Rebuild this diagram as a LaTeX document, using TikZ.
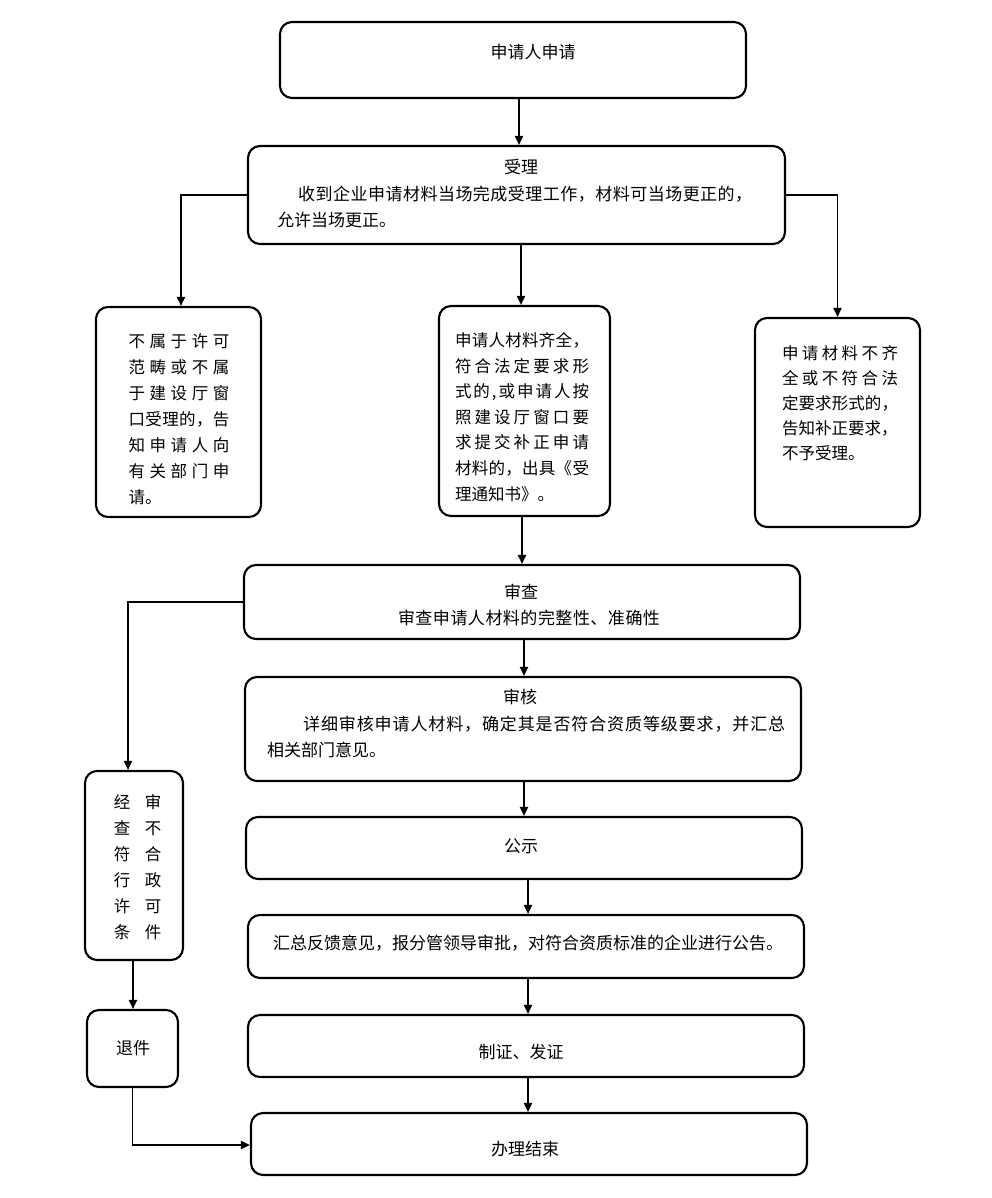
\documentclass[tikz,border=0pt]{standalone}
\usepackage{fontspec}
\setmainfont{Noto Sans CJK SC}
\usetikzlibrary{arrows.meta}
\def\sprloop#1{#1\futurelet\sprnext\sprcheck}
\def\sprcheck{\ifx\sprnext\relax\else\hfil\expandafter\sprloop\fi}
\newcommand\spr[2]{\makebox[#1][s]{\sprloop#2\relax}}
\tikzset{
  box/.style={draw, line width=2.1pt, rounded corners=12pt, inner sep=0pt},
  txt/.style={inner sep=0pt, font=\fontsize{17}{26}\selectfont},
  stxt/.style={inner sep=0pt, align=left, font=\fontsize{16.5}{26}\selectfont},
  arr/.style={line width=1.9pt, -{Triangle[length=9pt,width=8pt]}},
}
\begin{document}
\begin{tikzpicture}[x=1pt,y=-1pt]
\fill[white] (0,0) rectangle (992,1198);
\useasboundingbox (0,0) rectangle (992,1198);
% boxes
\node[box, minimum width=466pt, minimum height=76pt] (a) at (513,60) {};
\node[box, minimum width=537pt, minimum height=98pt] (b) at (516.5,195) {};
\node[box, minimum width=165pt, minimum height=210pt] (c) at (178.5,412) {};
\node[box, minimum width=171pt, minimum height=210pt] (d) at (524.5,411) {};
\node[box, minimum width=165pt, minimum height=209pt] (e) at (837.5,422.5) {};
\node[box, minimum width=556pt, minimum height=74pt] (f) at (522,602) {};
\node[box, minimum width=556pt, minimum height=104pt] (g) at (523,729) {};
\node[box, minimum width=556pt, minimum height=62pt] (h) at (524,848) {};
\node[box, minimum width=556pt, minimum height=63pt] (i) at (526,946.5) {};
\node[box, minimum width=556pt, minimum height=62pt] (j) at (526,1046) {};
\node[box, minimum width=556pt, minimum height=62pt] (k) at (529,1144) {};
\node[box, minimum width=98pt, minimum height=189pt] (l) at (134,865.5) {};
\node[box, minimum width=91pt, minimum height=77pt] (m) at (132.5,1048.5) {};
% texts
\node[txt] (at) at (533,52) {申请人申请};
\node[txt] (bt1) at (521,167) {受理};
\node[txt, anchor=west] (bt2) at (298,194) {\spr{454pt}{收到企业申请材料当场完成受理工作，材料可当场更正的，}};
\node[txt, anchor=west] (bt3) at (277,220) {允许当场更正。};
\node[stxt] (ct) at (179,419) {\spr{101pt}{不属于许可}\\\spr{101pt}{范畴或不属}\\\spr{101pt}{于建设厅窗}\\\spr{101pt}{口受理的，告}\\\spr{101pt}{知申请人向}\\\spr{101pt}{有关部门申}\\\makebox[101pt][l]{请。}};
\node[stxt, font=\fontsize{16.5}{25.6}\selectfont] (dt) at (522,417) {\spr{134pt}{申请人材料齐全，}\\\spr{134pt}{符合法定要求形}\\\spr{134pt}{式的,或申请人按}\\\spr{134pt}{照建设厅窗口要}\\\spr{134pt}{求提交补正申请}\\\spr{134pt}{材料的，出具《受}\\\makebox[134pt][l]{理通知书》。}};
\node[stxt, font=\fontsize{16.5}{25}\selectfont] (et) at (840,403) {\spr{116pt}{申请材料不齐}\\\spr{116pt}{全或不符合法}\\\spr{116pt}{定要求形式的，}\\\makebox[116pt][l]{告知补正要求，}\\\makebox[116pt][l]{不予受理。}};
\node[txt] (ft1) at (521,592) {审查};
\node[txt] (ft2) at (529,618) {\spr{262pt}{审查申请人材料的完整性、准确性}};
\node[txt] (gt1) at (520,697) {审核};
\node[txt, anchor=west] (gt2) at (303,724) {\spr{482pt}{详细审核申请人材料，确定其是否符合资质等级要求，并汇总}};
\node[txt, anchor=west] (gt3) at (267,750) {相关部门意见。};
\node[txt] (ht) at (521,846) {公示};
\node[txt, anchor=west] (it) at (273,943) {\spr{506pt}{汇总反馈意见，报分管领导审批，对符合资质标准的企业进行公告。}};
\node[txt] (jt) at (521,1052) {制证、发证};
\node[txt] (kt) at (525,1149) {办理结束};
\node[stxt, align=center] (lt1) at (122,867) {经\\查\\符\\行\\许\\条};
\node[stxt, align=center] (lt2) at (153,867) {审\\不\\合\\政\\可\\件};
\node[txt] (mt) at (133,1048) {退件};
% connectors
\draw[arr] ([xshift=6pt]a.south) -- ([xshift=2.5pt]b.north);
\draw[arr] (b.west) -| ([xshift=2.5pt]c.north);
\draw[arr] ([xshift=4.5pt]b.south) -- ([xshift=-3.5pt]d.north);
\draw[arr] (b.east) -| (e.north);
\draw[arr] ([xshift=-2.5pt]d.south) -- (f.north);
\draw[arr] (f.west) -| ([xshift=-6pt]l.north);
\draw[arr] ([xshift=2pt]f.south) -- ([xshift=1pt]g.north);
\draw[arr] ([xshift=1pt]g.south) -- (h.north);
\draw[arr] ([xshift=4pt]h.south) -- ([xshift=2pt]i.north);
\draw[arr] ([xshift=2pt]i.south) -- ([xshift=2pt]j.north);
\draw[arr] ([xshift=2pt]j.south) -- ([xshift=-1pt]k.north);
\draw[arr] ([xshift=-1pt]l.south) -- ([xshift=0.5pt]m.north);
\draw[arr] (m.south) |- ([yshift=-1pt]k.west);
\end{tikzpicture}
\end{document}
